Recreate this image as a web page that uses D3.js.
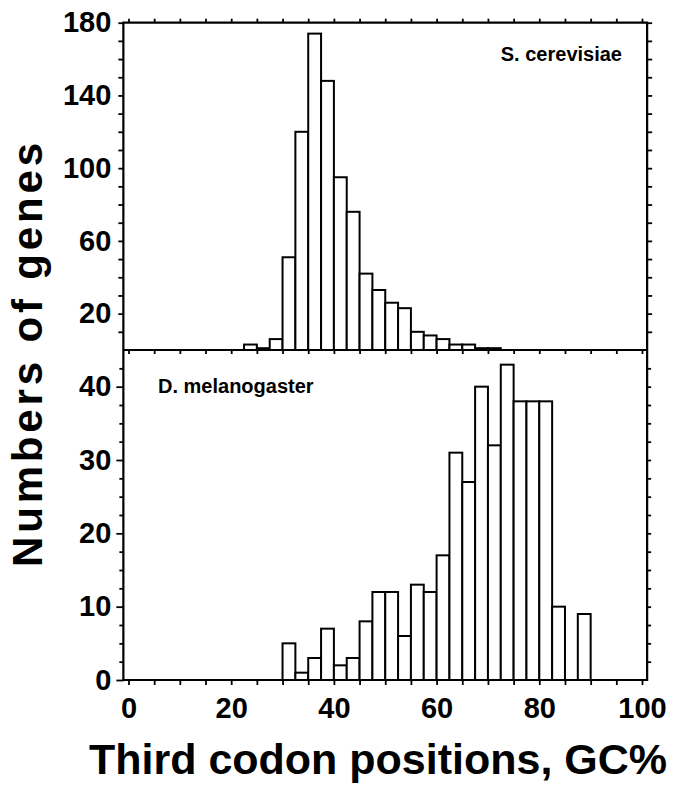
<!DOCTYPE html>
<html lang="en">
<head>
<meta charset="utf-8">
<title>Third codon positions GC%</title>
<script src="https://d3js.org/d3.v7.min.js"></script>
<style>
body { margin: 0; background: #fff; }
</style>
</head>
<body>
<div id="chart"></div>
<script>
// bins are 2.5 GC% wide, listed by their left edge
const yeastBins = [22.5, 25, 27.5, 30, 32.5, 35, 37.5, 40, 42.5, 45, 47.5, 50, 52.5, 55, 57.5, 60, 62.5, 65, 67.5, 70];
const yeastCounts = [3, 1, 6, 51, 120, 174, 148, 95, 76, 42, 33, 26, 23, 10, 8, 6, 3, 3, 1, 1];

const flyBins = [30, 32.5, 35, 37.5, 40, 42.5, 45, 47.5, 50, 52.5, 55, 57.5, 60, 62.5, 65, 67.5, 70, 72.5, 75, 77.5, 80, 82.5, 85, 87.5];
const flyCounts = [5, 1, 3, 7, 2, 3, 8, 12, 12, 6, 13, 12, 17, 31, 27, 40, 32, 43, 38, 38, 38, 10, 0, 9];

const binWidth = 2.5;
const xTickLabels = [0, 20, 40, 60, 80, 100];
const topYLabels = [20, 60, 100, 140, 180];
const botYLabels = [0, 10, 20, 30, 40];

const w = 689, h = 791;
const font = "'Liberation Sans', Arial, Helvetica, sans-serif";

const svg = d3.select("#chart").append("svg")
  .attr("width", w)
  .attr("height", h);

// scales
const x = d3.scaleLinear().domain([0, 100]).range([128.5, 642]);
const yTop = d3.scaleLinear().domain([0, 180]).range([350, 22.7]);
const yBot = d3.scaleLinear().domain([0, 45]).range([680, 350]);

function styleAxis(g, size) {
  g.select(".domain").remove();
  g.selectAll(".tick line").attr("stroke", "#000").attr("stroke-width", 1.8);
  g.selectAll("text")
    .attr("font-family", font)
    .attr("font-weight", "bold")
    .attr("font-size", size || 29)
    .attr("fill", "#000");
}

// bars
function drawBars(bins, counts, y) {
  svg.append("g").selectAll("rect")
    .data(bins.map((b, i) => ({ b: b, v: counts[i] })).filter(d => d.v > 0))
    .enter().append("rect")
    .attr("x", d => x(d.b))
    .attr("width", d => x(d.b + binWidth) - x(d.b))
    .attr("y", d => y(d.v))
    .attr("height", d => y(0) - y(d.v))
    .attr("fill", "#fff")
    .attr("stroke", "#000")
    .attr("stroke-width", 2);
}
drawBars(yeastBins, yeastCounts, yTop);
drawBars(flyBins, flyCounts, yBot);

// frame
const xl = x(-1), xr = x(101);
svg.append("path")
  .attr("d", `M${xl},${yTop(180)}H${xr}V${yBot(0)}H${xl}Z M${xl},${yBot(45)}H${xr}`)
  .attr("fill", "none")
  .attr("stroke", "#000")
  .attr("stroke-width", 2.2);

const xMinor = d3.range(0, 100.1, 5);

// bottom x axis
svg.append("g")
  .attr("transform", `translate(0,${yBot(0)})`)
  .call(d3.axisBottom(x).tickValues(xMinor).tickSize(5).tickPadding(12)
    .tickFormat(d => xTickLabels.includes(d) ? d : ""))
  .call(g => styleAxis(g));

// top edge ticks
svg.append("g")
  .attr("transform", `translate(0,${yTop(180)})`)
  .call(d3.axisTop(x).tickValues(xMinor).tickSize(4).tickFormat(""))
  .call(g => styleAxis(g));

// middle line ticks
svg.append("g")
  .attr("transform", `translate(0,${yBot(45)})`)
  .call(d3.axisBottom(x).tickValues(xMinor).tickSize(4).tickFormat(""))
  .call(g => styleAxis(g));

// left axes
svg.append("g")
  .attr("transform", `translate(${xl},0)`)
  .call(d3.axisLeft(yTop).tickValues(d3.range(10, 180.1, 10)).tickSize(5).tickPadding(7)
    .tickFormat(d => topYLabels.includes(d) ? d : ""))
  .call(g => styleAxis(g));

svg.append("g")
  .attr("transform", `translate(${xl},0)`)
  .call(d3.axisLeft(yBot).tickValues(d3.range(0, 42.6, 2.5)).tickSize(5).tickPadding(7)
    .tickFormat(d => botYLabels.includes(d) ? d : ""))
  .call(g => styleAxis(g))
  .call(g => g.selectAll(".tick line").attr("x2", d => d % 10 === 0 ? -7 : -4));

// right axes
svg.append("g")
  .attr("transform", `translate(${xr},0)`)
  .call(d3.axisRight(yTop).tickValues(d3.range(10, 180.1, 10)).tickSize(5).tickFormat(""))
  .call(g => styleAxis(g));

svg.append("g")
  .attr("transform", `translate(${xr},0)`)
  .call(d3.axisRight(yBot).tickValues(d3.range(2.5, 42.6, 2.5)).tickSize(4).tickFormat(""))
  .call(g => styleAxis(g));

// panel labels
svg.append("text")
  .attr("x", 622).attr("y", 61)
  .attr("text-anchor", "end")
  .attr("font-family", font).attr("font-weight", "bold").attr("font-size", 20)
  .text("S. cerevisiae");

svg.append("text")
  .attr("x", 158).attr("y", 393)
  .attr("font-family", font).attr("font-weight", "bold").attr("font-size", 20)
  .text("D. melanogaster");

// axis titles
svg.append("text")
  .attr("transform", "translate(42,355) rotate(-90)")
  .attr("text-anchor", "middle")
  .attr("font-family", font).attr("font-weight", "bold").attr("font-size", 42)
  .attr("textLength", 424).attr("lengthAdjust", "spacing")
  .text("Numbers of genes");

svg.append("text")
  .attr("x", 378).attr("y", 774)
  .attr("text-anchor", "middle")
  .attr("font-family", font).attr("font-weight", "bold").attr("font-size", 43)
  .text("Third codon positions, GC%");
</script>
</body>
</html>
